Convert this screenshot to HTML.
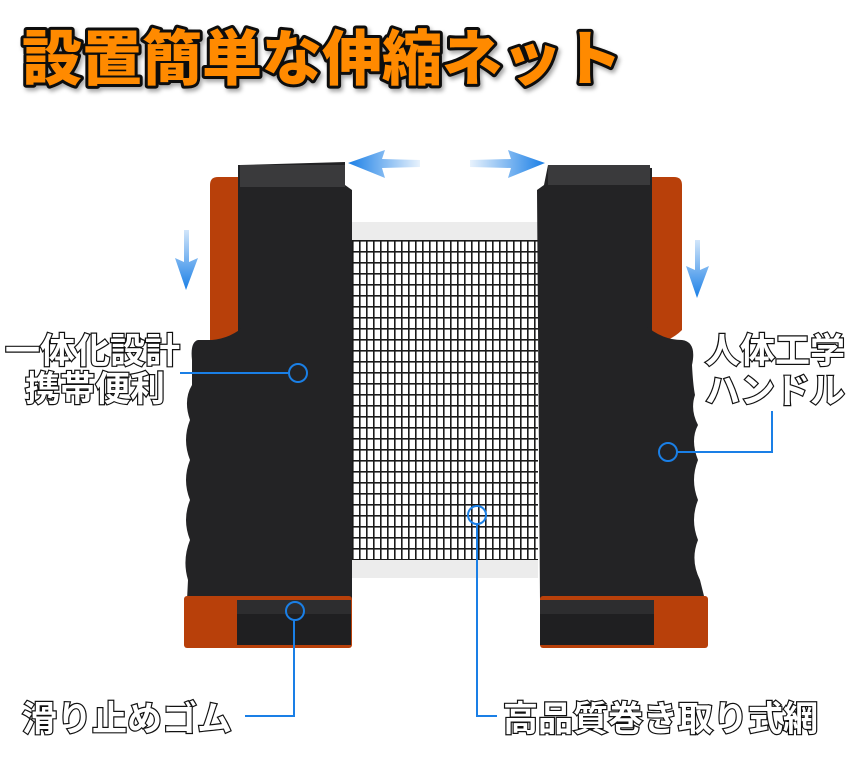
<!DOCTYPE html>
<html><head><meta charset="utf-8"><style>
html,body{margin:0;padding:0;background:#fff;width:860px;height:768px;overflow:hidden}
svg{display:block}
.lbl{font-family:"Liberation Sans","Noto Sans CJK JP",sans-serif;font-weight:bold;font-size:35px;fill:#fff;stroke:#111;stroke-width:2.4px;paint-order:stroke;}
.ttl{font-family:"Liberation Sans","Noto Sans CJK JP",sans-serif;font-weight:900;font-size:60px;fill:#ff8a00;stroke:#111;stroke-width:6px;paint-order:stroke;stroke-linejoin:round}
</style></head><body>
<svg width="860" height="768" viewBox="0 0 860 768" xmlns="http://www.w3.org/2000/svg">
<defs>
<pattern id="net" x="352" y="240" width="7" height="11" patternUnits="userSpaceOnUse">
<rect x="0" y="0" width="1.6" height="11" fill="#1a1a1a"/>
<rect x="0" y="0" width="7" height="1.6" fill="#1a1a1a"/>
</pattern>
<filter id="sh"><feDropShadow dx="2" dy="3" stdDeviation="2" flood-color="#000" flood-opacity="0.35"/></filter>
<linearGradient id="al" x1="0" x2="1"><stop offset="0" stop-color="#1a7fe6"/><stop offset="1" stop-color="#1a7fe6" stop-opacity="0.1"/></linearGradient>
<linearGradient id="ar" x1="1" x2="0"><stop offset="0" stop-color="#1a7fe6"/><stop offset="1" stop-color="#1a7fe6" stop-opacity="0.1"/></linearGradient>
<linearGradient id="ad" y1="0" y2="1" x1="0" x2="0"><stop offset="0" stop-color="#1a7fe6" stop-opacity="0.2"/><stop offset="1" stop-color="#1a7fe6"/></linearGradient>
</defs>
<text x="22" y="80" class="ttl" filter="url(#sh)">設置簡単な伸縮ネット</text>

<!-- net -->
<rect x="352" y="222" width="186" height="18" fill="#ececec"/>
<rect x="352" y="560" width="186" height="18" fill="#ececec"/>
<rect x="352" y="240" width="186" height="320" fill="url(#net)"/>

<!-- arrows top -->
<polygon points="348,163 385,150 382,159 420,160 420,167 382,168 385,178" fill="url(#al)"/>
<polygon points="545,163 508,150 511,159 470,160 470,167 511,168 508,178" fill="url(#ar)"/>
<!-- down arrows -->
<polygon points="184,230 189,230 189,262 198,258 186,290 175,258 184,262" fill="url(#ad)"/>
<polygon points="695,240 700,240 700,270 709,266 697,298 686,266 695,270" fill="url(#ad)"/>

<!-- left post -->
<path d="M210,185 Q210,177 218,177 L240,177 L240,330 Q230,342 210,345 Z" fill="#b8400a"/>
<path d="M240,165 L345,162 L345,185 L352,190 L352,632 L238,632 L238,165 Z" fill="#232325"/>
<path d="M245,325 Q232,338 212,340 L198,340 Q190,342 192,360 L192,385 Q183,400 190,420 Q182,440 190,460 Q182,480 190,500 Q182,520 190,540 Q182,560 188,580 L187,600 L245,600 Z" fill="#232325"/>
<rect x="240" y="165" width="105" height="22" fill="#3a3a3c"/>
<rect x="184" y="596" width="168" height="52" rx="3" fill="#b8400a"/>
<rect x="237" y="600" width="114" height="45" fill="#1f1f21"/>
<rect x="237" y="600" width="114" height="14" fill="#2d2d2f"/>

<!-- right post -->
<path d="M650,177 L674,177 Q682,177 682,185 L682,330 Q670,342 650,345 Z" fill="#b8400a"/>
<path d="M548,165 L652,168 L652,600 L540,600 L537,190 L544,185 Z" fill="#232325"/>
<path d="M645,325 Q662,340 682,340 Q697,342 692,365 Q693,385 695,395 Q690,410 698,425 Q690,440 698,460 Q690,480 698,500 Q690,520 698,540 Q690,560 700,580 L705,600 L645,600 Z" fill="#232325"/>
<rect x="548" y="165" width="102" height="20" fill="#3a3a3c"/>
<rect x="540" y="596" width="168" height="52" rx="3" fill="#b8400a"/>
<rect x="540" y="600" width="114" height="45" fill="#1f1f21"/>
<rect x="540" y="600" width="114" height="14" fill="#2d2d2f"/>

<!-- callouts -->
<g stroke="#1a7fe6" stroke-width="2" fill="none">
<circle cx="298" cy="373" r="9"/>
<line x1="180" y1="373" x2="289" y2="373"/>
<circle cx="668" cy="452" r="9"/>
<polyline points="677,452 772,452 772,411"/>
<circle cx="295" cy="611" r="9"/>
<polyline points="294,620 294,716 245,716"/>
<circle cx="477" cy="515" r="9"/>
<polyline points="477,524 477,716 497,716"/>
</g>

<text x="5" y="363" class="lbl">一体化設計</text>
<text x="25" y="401" class="lbl">携帯便利</text>
<text x="705" y="363" class="lbl">人体工学</text>
<text x="705" y="403" class="lbl">ハンドル</text>
<text x="22" y="731" class="lbl">滑り止めゴム</text>
<text x="503" y="731" class="lbl">高品質巻き取り式網</text>
</svg>
</body></html>
